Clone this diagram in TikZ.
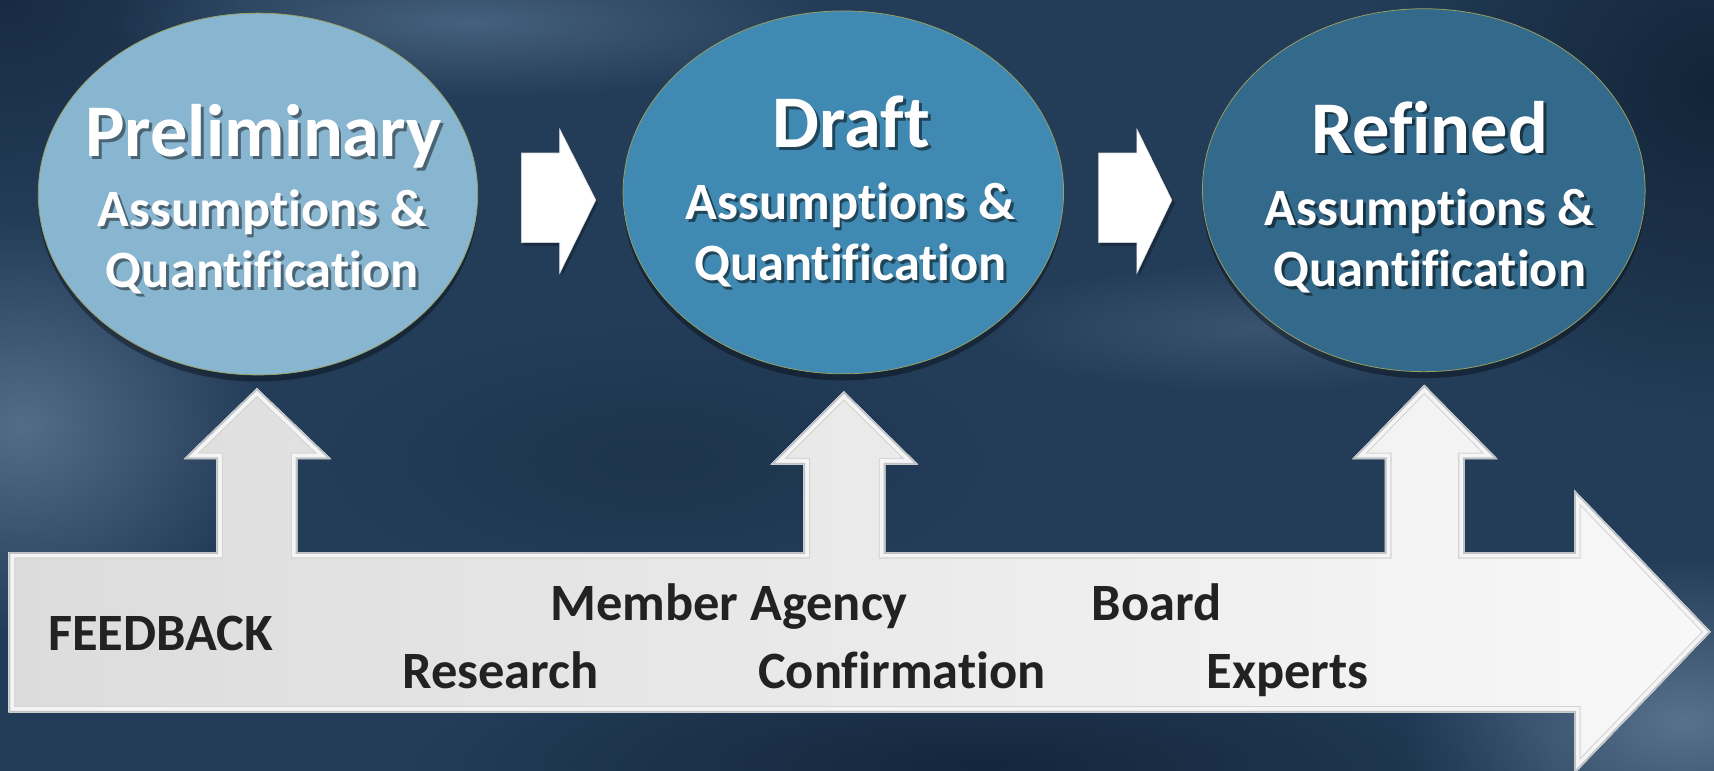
\documentclass[tikz,border=0pt]{standalone}
\usepackage{fontspec}
\setmainfont{Carlito}[Ligatures=NoCommon]
\usetikzlibrary{fadings,shadows,shapes.geometric}
\definecolor{bgbase}{HTML}{233C58}
\definecolor{eA}{HTML}{88B6D1}
\definecolor{eB}{HTML}{3F89B2}
\definecolor{eC}{HTML}{33698A}
\definecolor{eedge}{HTML}{9AA060}
\definecolor{arrL}{HTML}{DCDCDC}
\definecolor{arrR}{HTML}{F8F8F8}
\definecolor{arredge}{HTML}{BFC3C7}
\definecolor{arrinner}{HTML}{D4D4D4}
\definecolor{txtdark}{HTML}{222222}
\tikzfading[name=softglow, inner color=transparent!0, outer color=transparent!100]
\newcommand\shtxt[2]{\makebox[0pt][l]{\kern1.3pt\raisebox{-1.3pt}{\color{#1}#2}}#2}
\def\fbshape{(8,505) -- (198,505) -- (198,420) -- (168,420) -- (235,355) -- (303,420) -- (272,420) -- (272,505) -- (735,505) -- (735,425) -- (705,425) -- (772,358) -- (840,425) -- (810,425) -- (810,505) -- (1267,505) -- (1267,420) -- (1237,420) -- (1303,352) -- (1370,420) -- (1340,420) -- (1340,505) -- (1440,505) -- (1440,448) -- (1565,578) -- (1440,708) -- (1440,652) -- (8,652) -- cycle}
\begin{document}
\begin{tikzpicture}[x=0.5pt,y=-0.5pt,
  stage/.style={ellipse, inner sep=0pt, draw=eedge, line width=0.35pt,
    drop shadow={shadow xshift=0pt, shadow yshift=-3pt, opacity=0.35, fill=black}},
  title/.style={anchor=base, text=white, font=\fontsize{34}{36}\selectfont\bfseries},
  sub/.style={anchor=base, text=white, font=\fontsize{24}{26}\selectfont\bfseries},
  fb/.style={anchor=base, text=txtdark, font=\fontsize{24}{26}\selectfont\bfseries},
  rarrow/.style={fill=white, draw=white!85!black, line width=0.3pt},
  glow/.style={path fading=softglow}
]
\useasboundingbox (0,0) rectangle (1568,705);
% background
\fill[bgbase] (0,0) rectangle (1568,705);
\begin{scope}
\clip (0,0) rectangle (1568,705);
\fill[glow, color={rgb,255:red,24;green,43;blue,68}] (0,0) ellipse (260 and 200);
\fill[glow, color={rgb,255:red,19;green,37;blue,56}] (1568,80) ellipse (320 and 300);
\fill[glow, color={rgb,255:red,84;green,108;blue,136}] (20,390) ellipse (220 and 190);
\fill[glow, color={rgb,255:red,70;green,97;blue,125}] (430,20) ellipse (330 and 70);
\fill[glow, color={rgb,255:red,88;green,114;blue,142}] (1540,660) ellipse (260 and 150);
\fill[glow, color={rgb,255:red,20;green,38;blue,60}] (900,700) ellipse (520 and 110);
\fill[glow, color={rgb,255:red,58;green,84;blue,112}] (1150,300) ellipse (260 and 60);
\fill[glow, color={rgb,255:red,30;green,52;blue,78}] (600,420) ellipse (300 and 120);
\end{scope}
% stage ellipses
\node[stage, fill=eA, minimum width=201pt, minimum height=165.5pt] (pre) at (236,177.5) {};
\node[stage, fill=eB, minimum width=201.5pt, minimum height=166pt] (dra) at (771.5,176) {};
\node[stage, fill=eC, minimum width=202.5pt, minimum height=166pt] (ref) at (1302.5,174) {};
% stage texts
\node[title] (preT) at (241,143) {\shtxt{eA!55!black}{Preliminary}};
\node[sub] (preA) at (240,207) {\shtxt{eA!55!black}{Assumptions \&}};
\node[sub] (preQ) at (240,263) {\shtxt{eA!55!black}{Quantification}};
\node[title] (draT) at (779,135) {\shtxt{eB!50!black}{Draft}};
\node[sub] (draA) at (778,201) {\shtxt{eB!50!black}{Assumptions \&}};
\node[sub] (draQ) at (778,257) {\shtxt{eB!50!black}{Quantification}};
\node[title] (refT) at (1308,140) {\shtxt{eC!50!black}{Refined}};
\node[sub] (refA) at (1308,206) {\shtxt{eC!50!black}{Assumptions \&}};
\node[sub] (refQ) at (1308,262) {\shtxt{eC!50!black}{Quantification}};
% white right arrows
\fill[black, opacity=0.25] (479,143) -- (514,143) -- (514,121) -- (547,186) -- (514,253) -- (514,225) -- (479,225) -- cycle;
\path[rarrow] (477,140) -- (512,140) -- (512,118) -- (545,183) -- (512,250) -- (512,222) -- (477,222) -- cycle;
\fill[black, opacity=0.25] (1007,143) -- (1042,143) -- (1042,121) -- (1075,186) -- (1042,253) -- (1042,225) -- (1007,225) -- cycle;
\path[rarrow] (1005,140) -- (1040,140) -- (1040,118) -- (1072,183) -- (1040,250) -- (1040,222) -- (1005,222) -- cycle;
% feedback arrow with up arrows
\fill[left color=arrL, right color=arrR] \fbshape;
\begin{scope}
\clip \fbshape;
\draw[line width=6pt, arrinner, line join=miter] \fbshape;
\draw[line width=5pt, white!96!black, line join=miter] \fbshape;
\draw[line width=1.6pt, arredge, line join=miter] \fbshape;
\end{scope}
% feedback texts
\node[fb] (fbk) at (147,595) {FEEDBACK};
\node[fb] (mem) at (667,568) {Member Agency};
\node[fb] (brd) at (1058,568) {Board};
\node[fb] (res) at (458,630) {Research};
\node[fb] (con) at (825,630) {Confirmation};
\node[fb] (exp) at (1178,630) {Experts};
\end{tikzpicture}
\end{document}
